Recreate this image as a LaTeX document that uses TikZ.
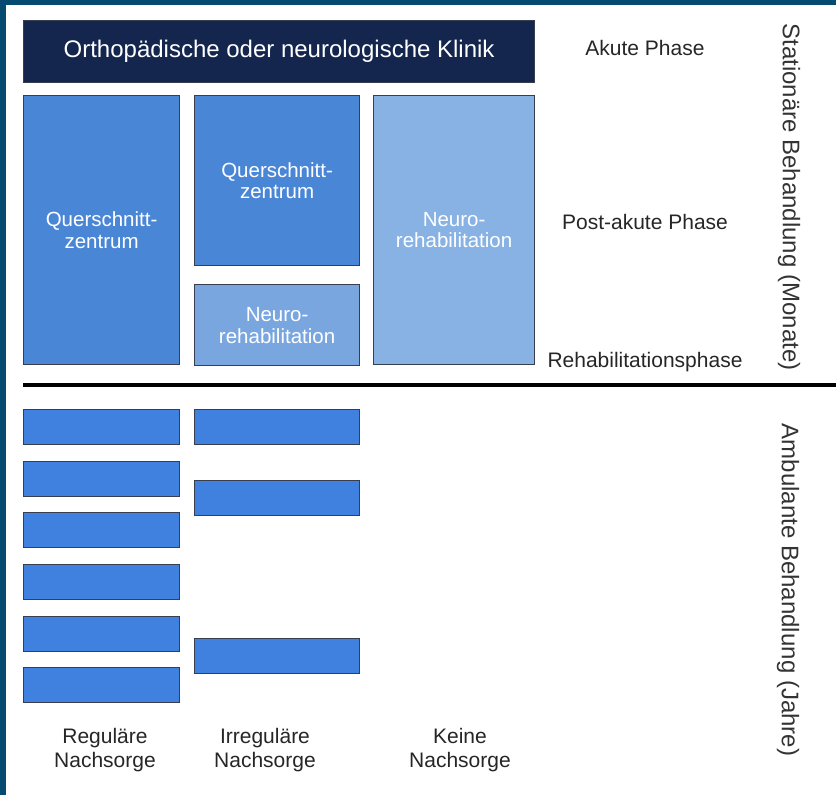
\documentclass[tikz,border=0pt]{standalone}
\usepackage{fontspec}
\setmainfont{Liberation Sans}
\usepackage{tikz}
\usetikzlibrary{positioning}
\definecolor{framecol}{RGB}{6,74,112}
\definecolor{navycol}{RGB}{20,38,78}
\definecolor{midblue}{RGB}{74,134,214}
\definecolor{lightblue}{RGB}{136,178,228}
\definecolor{softblue}{RGB}{122,166,224}
\definecolor{barblue}{RGB}{64,128,222}
\definecolor{edgecol}{RGB}{55,62,80}
\tikzset{
  stagebox/.style={draw=edgecol, line width=1.2pt, inner sep=0pt, anchor=north west, text=white, align=center, font=\fontsize{20.5}{21.5}\selectfont},
  followbar/.style={draw=edgecol, line width=1.2pt, fill=barblue, inner sep=0pt, anchor=north west, minimum height=35pt},
  phaselabel/.style={text=black!85, font=\fontsize{21}{24}\selectfont},
  carelabel/.style={text=black!85, align=center, font=\fontsize{21}{24}\selectfont},
  sidelabel/.style={text=black!80, rotate=-90, font=\fontsize{24}{28}\selectfont}
}

\begin{document}
\begin{tikzpicture}[x=1pt,y=-1pt]
        \useasboundingbox (0,0) rectangle (836,795);
        \fill[framecol] (0,0) rectangle (6,795);
        \fill[framecol] (0,0) rectangle (836,5);

        \node[stagebox, fill=navycol, minimum width=511pt, minimum height=62pt, font=\fontsize{24}{28}\selectfont] (klinik) at (23,20) {Orthopädische oder neurologische Klinik};

        \node[stagebox, fill=midblue, minimum width=156pt, minimum height=269pt] (qzA) at (23,95) {Querschnitt-\\zentrum};
        \node[stagebox, fill=midblue, minimum width=165pt, minimum height=170pt] (qzB) at (194,95) {Querschnitt-\\zentrum};
        \node[stagebox, fill=softblue, minimum width=165pt, minimum height=81pt, anchor=north, below=18pt of qzB] (nrB) {Neuro-\\rehabilitation};
        \node[stagebox, fill=lightblue, minimum width=161pt, minimum height=269pt] (nrC) at (373,95) {Neuro-\\rehabilitation};

        \node[phaselabel] (akut) at (645,48) {Akute Phase};
        \node[phaselabel] (postakut) at (645,222) {Post-akute Phase};
        \node[phaselabel] (rehab) at (645,362) {Rehabilitationsphase};

        \node[sidelabel] (stationaer) at (789,197) {Stationäre Behandlung (Monate)};
        \node[sidelabel] (ambulant) at (788,590) {Ambulante Behandlung (Jahre)};

        \coordinate (trennA) at (23,385);
        \coordinate (trennB) at (836,385);
        \draw[line width=4pt] (trennA) -- (trennB);

        \foreach \y [count=\i] in {409,461,512,564,616,667}
            \node[followbar, minimum width=156pt] (reg\i) at (23,\y) {};
        \foreach \y [count=\i] in {409,480,638}
            \node[followbar, minimum width=165pt] (irr\i) at (194,\y) {};

        \node[carelabel] (regulaer) at (105,750) {Reguläre\\Nachsorge};
        \node[carelabel] (irregulaer) at (265,750) {Irreguläre\\Nachsorge};
        \node[carelabel] (keine) at (460,750) {Keine\\Nachsorge};
    \end{tikzpicture}
\end{document}
